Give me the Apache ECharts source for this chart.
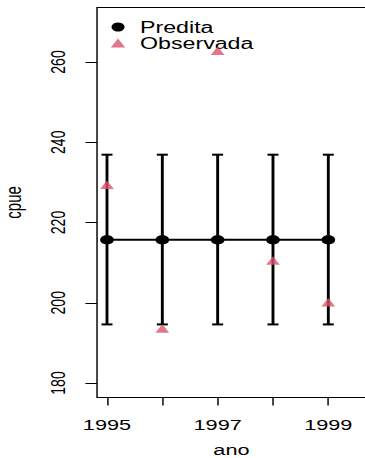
<!DOCTYPE html>
<html><head><meta charset="utf-8">
<script src="https://cdn.jsdelivr.net/npm/echarts@6/dist/echarts.min.js"></script>
<style>
html,body{margin:0;padding:0;overflow:hidden;background:#fff;width:365px;height:458px}
#c{width:252px;height:458px;transform:scaleX(1.44841);transform-origin:0 0}
</style>
</head><body><div id="c"></div>
<script>
// Data
const years = [1995, 1996, 1997, 1998, 1999];
const predita = [215.7, 215.7, 215.7, 215.7, 215.7];
const lower = [194.6, 194.6, 194.6, 194.6, 194.6];
const upper = [236.9, 236.9, 236.9, 236.9, 236.9];
const observada = [229.4, 193.6, 262.8, 210.5, 200.1];
const xTickLabels = ['1995', '', '1997', '', '1999'];
const yTickLabels = ['180', '200', '220', '240', '260'];

const FONT = "'Liberation Sans', Arial, Helvetica, sans-serif";
const chart = echarts.init(document.getElementById('c'), null, {renderer: 'svg'});

chart.setOption({
  animation: false,
  backgroundColor: '#fff',
  textStyle: {fontFamily: FONT, color: '#000'},
  grid: [
    {left: 66.99, right: -0.65, top: 7.43, bottom: 60.55, show: true, borderColor: '#000', borderWidth: 1,
     backgroundColor: 'transparent', outerBoundsMode: 'none'},
    {left: 73.87, right: 25.34, top: 62, bottom: 75, outerBoundsMode: 'none'}
  ],
  legend: {
    orient: 'vertical', left: 76.5, top: 19, padding: 0,
    itemWidth: 10, itemHeight: 9, itemGap: 0, selectedMode: false,
    textStyle: {fontFamily: FONT, fontSize: 16, lineHeight: 16, color: '#000', padding: [0, 0, 0, 5.2]},
    data: [{name: 'Predita', icon: 'circle'}, {name: 'Observada', icon: 'triangle'}]
  },
  xAxis: [
    {gridIndex: 0, type: 'value', min: 1994.82, max: 1999.68,
     axisLine: {show: false}, axisTick: {show: false}, axisLabel: {show: false}, splitLine: {show: false},
     name: 'ano', nameLocation: 'middle', nameGap: 45,
     nameTextStyle: {fontFamily: FONT, fontSize: 15, color: '#000'}},
    {gridIndex: 1, type: 'value', min: 1995, max: 1999, interval: 1, offset: 14.45,
     axisLine: {show: false}, splitLine: {show: false},
     axisTick: {show: true, length: 8, lineStyle: {color: '#000', width: 1}},
     axisLabel: {show: true, margin: 20, fontFamily: FONT, fontSize: 15, color: '#000',
       showMinLabel: true, showMaxLabel: true,
       formatter: v => { const i = years.indexOf(Math.round(v)); return i >= 0 ? xTickLabels[i] : ''; }}}
  ],
  yAxis: [
    {gridIndex: 0, type: 'value', min: 176.4, max: 273.6,
     axisLine: {show: false}, axisTick: {show: false}, axisLabel: {show: false}, splitLine: {show: false},
     name: 'cpue', nameLocation: 'middle', nameGap: 50,
     nameTextStyle: {fontFamily: FONT, fontSize: 15, color: '#000'}},
    {gridIndex: 1, type: 'value', min: 180, max: 260, interval: 20, offset: 6.88,
     axisLine: {show: false}, splitLine: {show: false},
     axisTick: {show: true, length: 8, lineStyle: {color: '#000', width: 1}},
     axisLabel: {show: true, rotate: 90, margin: 20, fontFamily: FONT, fontSize: 14, color: '#000',
       showMinLabel: true, showMaxLabel: true,
       formatter: v => { const i = yTickLabels.indexOf(String(Math.round(v))); return i >= 0 ? yTickLabels[i] : ''; }}}
  ],
  series: [
    {
      type: 'custom', name: 'IC', xAxisIndex: 0, yAxisIndex: 0, z: 2,
      data: years.map((y, i) => [y, lower[i], upper[i]]),
      renderItem: (params, api) => {
        const lo = api.coord([api.value(0), api.value(1)]);
        const hi = api.coord([api.value(0), api.value(2)]);
        const hw = 3.8;
        const st = {stroke: '#000', lineWidth: 2};
        return {type: 'group', children: [
          {type: 'line', shape: {x1: lo[0], y1: lo[1], x2: hi[0], y2: hi[1]}, style: st},
          {type: 'line', shape: {x1: lo[0] - hw, y1: lo[1], x2: lo[0] + hw, y2: lo[1]}, style: {stroke: '#000', lineWidth: 2}},
          {type: 'line', shape: {x1: hi[0] - hw, y1: hi[1], x2: hi[0] + hw, y2: hi[1]}, style: {stroke: '#000', lineWidth: 2}}
        ]};
      }
    },
    {
      type: 'line', name: 'Predita', xAxisIndex: 0, yAxisIndex: 0, z: 3,
      data: years.map((y, i) => [y, predita[i]]),
      symbol: 'circle', symbolSize: 9.5, showSymbol: true,
      lineStyle: {color: '#000', width: 2}, itemStyle: {color: '#000'}
    },
    {
      type: 'scatter', name: 'Observada', xAxisIndex: 0, yAxisIndex: 0, z: 4,
      data: years.map((y, i) => [y, observada[i]]),
      symbol: 'triangle', symbolSize: [9.5, 8.5],
      itemStyle: {color: '#DF536B'}
    }
  ]
});
</script>
</body></html>
